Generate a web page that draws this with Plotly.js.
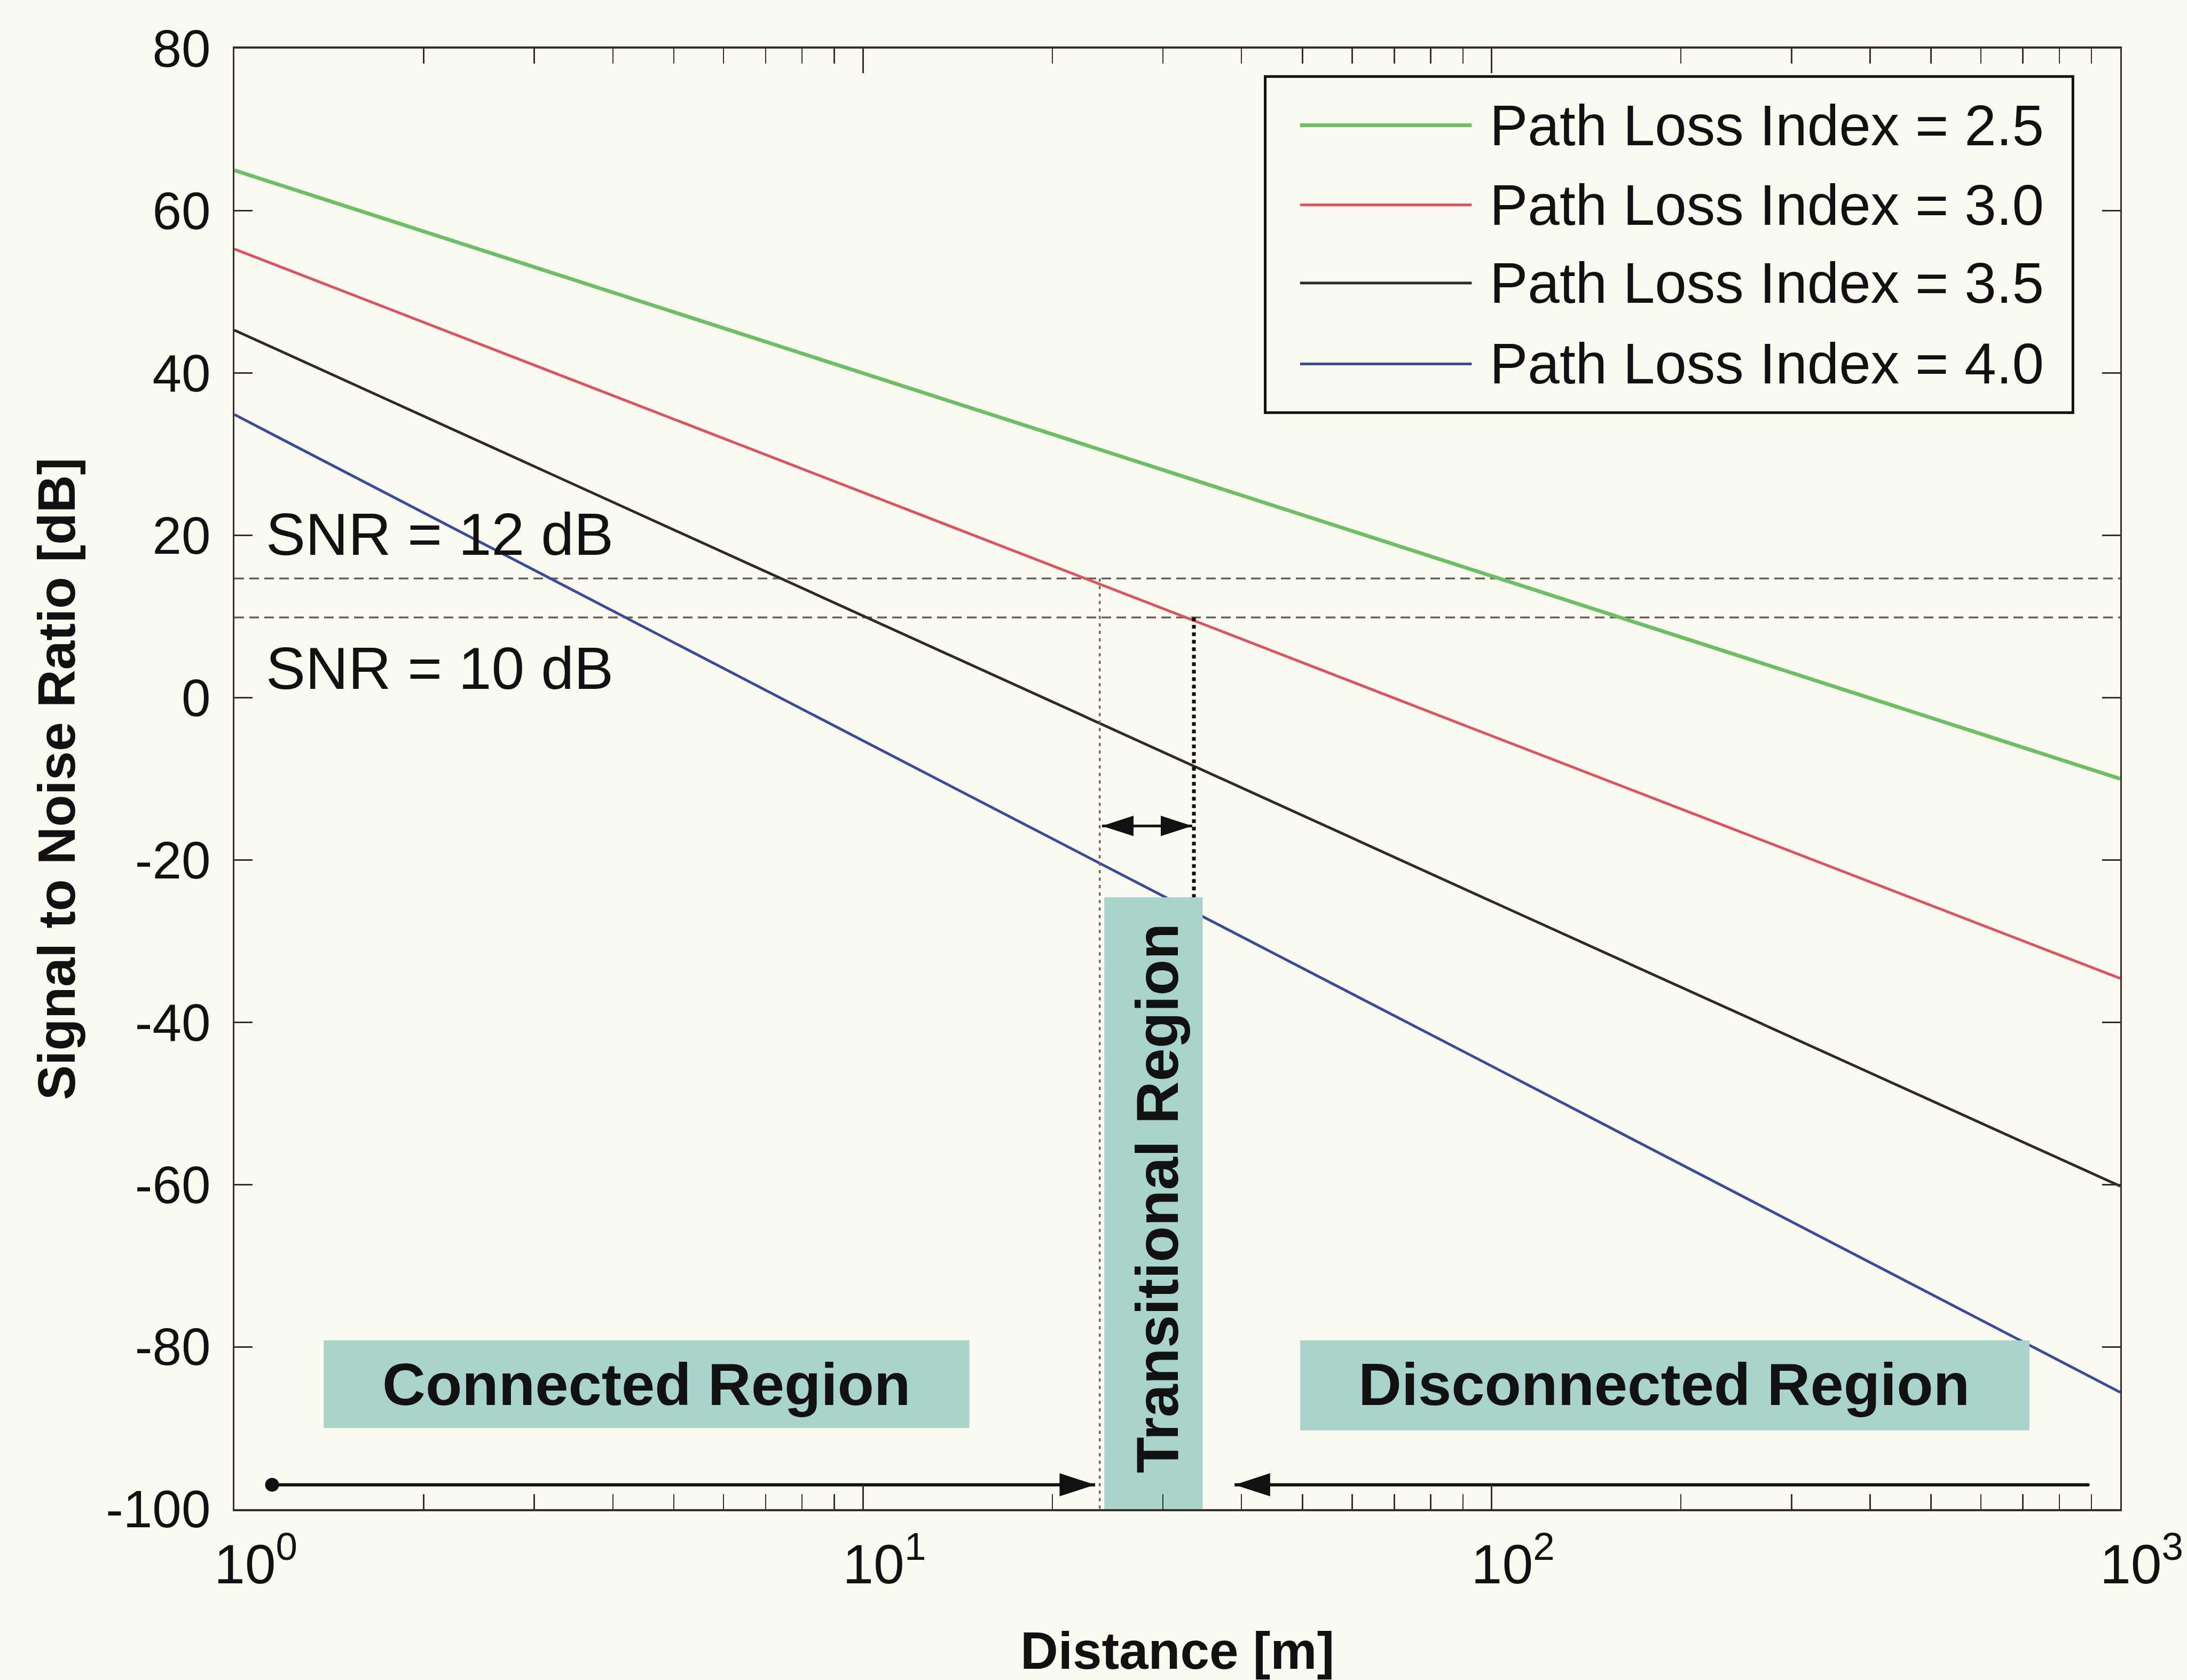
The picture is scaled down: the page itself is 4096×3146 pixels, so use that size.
<!DOCTYPE html>
<html><head><meta charset="utf-8">
<script src="https://cdn.plot.ly/plotly-3.0.1.min.js"></script>
<style>html,body{margin:0;padding:0;background:#fafaf1;} #chart{width:4096px;height:3146px;}</style>
</head><body><div id="chart"></div>
<script>
// ---- data ----
const distance = [1, 10, 100, 1000];
const seriesNames = ['Path Loss Index = 2.5', 'Path Loss Index = 3.0', 'Path Loss Index = 3.5', 'Path Loss Index = 4.0'];
const snrIndex25 = [65.0, 40.0, 15.0, -10.0];
const snrIndex30 = [55.3, 25.3, -4.7, -34.6];
const snrIndex35 = [45.3, 10.1, -25.1, -60.2];
const snrIndex40 = [34.9, -5.3, -45.4, -85.6];
const seriesColors = ['#6cc064', '#e0515c', '#2e2a28', '#3a4a9c'];

const thresholdNames = ['SNR = 12 dB', 'SNR = 10 dB'];
const thresholdLevels = [14.7, 9.9];
const thresholdSpan = [1, 1000];

const transitionDist = [23.8, 33.6];      // where the thresholds are crossed
const transitionMarkerTop = [14.7, 9.9];
const transitionMarkerBottom = [-100, -24.6];

const regionNames = ['Connected Region', 'Transitional Region', 'Disconnected Region'];
const regionX0 = [1.387, 24.2, 49.6];
const regionX1 = [14.77, 34.7, 717];
const regionY0 = [-90.0, -100.0, -90.3];
const regionY1 = [-79.2, -24.6, -79.2];

// arrows
const connectedArrowSpan = [1.148, 23.4];
const disconnectedArrowSpan = [39.0, 889];
const transitionArrowSpan = [24.0, 33.4];
const regionArrowLevel = -97;
const transitionArrowLevel = -15.8;

const xTickVals = [1, 10, 100, 1000];
const xTickText = ['10<sup>0</sup>', '10<sup>1</sup>', '10<sup>2</sup>', '10<sup>3</sup>'];
const xMinorVals = [2,3,4,5,6,7,8,9,20,30,40,50,60,70,80,90,200,300,400,500,600,700,800,900];
const yTickVals = [-100, -80, -60, -40, -20, 0, 20, 40, 60, 80];
const yTickText = ['-100', '-80', '-60', '-40', '-20', '0', '20', '40', '60', '80'];

// ---- styling ----
const FONT = 'Liberation Sans, Arial, Helvetica, sans-serif';
const BG = '#fafaf1';
const AXIS = '#3a2c2c';
const TEAL = '#a9d4cc';
const INK = '#111111';
const L = Math.log10;

const seriesY = [snrIndex25, snrIndex30, snrIndex35, snrIndex40];
const seriesWidth = [7, 5, 5, 5];

const traces = [];
// threshold lines
thresholdLevels.forEach((lv, i) => {
  traces.push({x: thresholdSpan, y: [lv, lv], mode: 'lines', name: thresholdNames[i], showlegend: false,
    line: {color: '#6e5f56', width: 3.5, dash: '18px,10px'}, hoverinfo: 'skip'});
});
// SNR curves
seriesY.forEach((ys, i) => {
  traces.push({x: distance, y: ys, mode: 'lines', name: seriesNames[i],
    line: {color: seriesColors[i], width: seriesWidth[i]}});
});
// thin dotted vertical marker
traces.push({x: [transitionDist[0], transitionDist[0]], y: [transitionMarkerTop[0], transitionMarkerBottom[0]],
  mode: 'lines', showlegend: false, hoverinfo: 'skip', line: {color: '#7a6258', width: 3.5, dash: '6px,8px'}});
// region boxes
regionNames.forEach((nm, i) => {
  traces.push({x: [regionX0[i], regionX1[i], regionX1[i], regionX0[i], regionX0[i]],
    y: [regionY0[i], regionY0[i], regionY1[i], regionY1[i], regionY0[i]],
    mode: 'lines', fill: 'toself', fillcolor: TEAL, line: {width: 0, color: TEAL},
    name: nm, showlegend: false, hoverinfo: 'skip'});
});
// thick dotted vertical marker
traces.push({x: [transitionDist[1], transitionDist[1]], y: [transitionMarkerTop[1], transitionMarkerBottom[1]],
  mode: 'lines', showlegend: false, hoverinfo: 'skip', line: {color: INK, width: 7, dash: 'dot'}});

// arrows drawn as lines with arrow markers
traces.push({x: connectedArrowSpan, y: [regionArrowLevel, regionArrowLevel], mode: 'lines+markers',
  showlegend: false, hoverinfo: 'skip', line: {color: INK, width: 6},
  marker: {symbol: ['circle', 'arrow'], angle: [0, 90], size: [26, 70], color: INK, opacity: 1, line: {width: 0}}});
traces.push({x: disconnectedArrowSpan, y: [regionArrowLevel, regionArrowLevel], mode: 'lines+markers',
  showlegend: false, hoverinfo: 'skip', line: {color: INK, width: 6},
  marker: {symbol: ['arrow', 'circle'], angle: [-90, 0], size: [70, 6], color: INK, opacity: 1, line: {width: 0}}});
traces.push({x: transitionArrowSpan, y: [transitionArrowLevel, transitionArrowLevel], mode: 'lines+markers',
  showlegend: false, hoverinfo: 'skip', line: {color: INK, width: 5},
  marker: {symbol: ['arrow', 'arrow'], angle: [-90, 90], size: [62, 62], color: INK, opacity: 1, line: {width: 0}}});

// manual legend (long line samples like the reference)
const legX0 = 0.5466, legX1 = 0.9749, legY0 = 0.7507, legY1 = 0.9809;
const legRows = [0.9475, 0.8930, 0.8395, 0.7841];
const shapes = [{type: 'rect', xref: 'paper', yref: 'paper', x0: legX0, x1: legX1, y0: legY0, y1: legY1,
  line: {color: INK, width: 5}, fillcolor: BG, layer: 'above'}];
const annotations = [];
seriesNames.forEach((nm, i) => {
  shapes.push({type: 'line', xref: 'paper', yref: 'paper', x0: 0.5651, x1: 0.6561, y0: legRows[i], y1: legRows[i],
    line: {color: seriesColors[i], width: seriesWidth[i]}, layer: 'above'});
  annotations.push({xref: 'paper', yref: 'paper', x: 0.6650, y: legRows[i], xanchor: 'left', yanchor: 'middle',
    text: nm, showarrow: false, font: {family: FONT, size: 107, color: INK}});
});

// threshold labels
annotations.push({x: L(1.119), y: 20.1, xanchor: 'left', yanchor: 'middle', text: thresholdNames[0], showarrow: false,
  font: {family: FONT, size: 111, color: INK}});
annotations.push({x: L(1.119), y: 3.6, xanchor: 'left', yanchor: 'middle', text: thresholdNames[1], showarrow: false,
  font: {family: FONT, size: 111, color: INK}});
// region labels
annotations.push({x: L(4.52), y: -84.6, text: '<b>' + regionNames[0] + '</b>', showarrow: false,
  font: {family: FONT, size: 112, color: INK}});
annotations.push({x: L(188), y: -84.6, text: '<b>' + regionNames[2] + '</b>', showarrow: false,
  font: {family: FONT, size: 112, color: INK}});
annotations.push({x: L(29.4), y: -61.7, text: '<b>' + regionNames[1] + '</b>', showarrow: false, textangle: -90,
  font: {family: FONT, size: 111, color: INK}});

const layout = {
  width: 4096, height: 3146,
  margin: {l: 439, r: 125, t: 91, b: 320},
  paper_bgcolor: BG, plot_bgcolor: BG,
  showlegend: false,
  font: {family: FONT, color: INK},
  xaxis: {
    type: 'log', range: [0, 3],
    tickmode: 'array', tickvals: xTickVals, ticktext: xTickText,
    ticks: 'inside', ticklen: 46, tickwidth: 3, tickcolor: AXIS,
    minor: {tickmode: 'array', tickvals: xMinorVals, ticks: 'inside', ticklen: 28, tickwidth: 2.5, tickcolor: AXIS},
    showline: true, linecolor: AXIS, linewidth: 4, mirror: 'allticks',
    showgrid: false, zeroline: false,
    tickfont: {family: FONT, size: 104, color: INK},
    ticklabelstandoff: 10, ticklabelshift: 40,
    title: {text: '<b>Distance [m]</b>', font: {family: FONT, size: 98, color: INK}, standoff: 72}
  },
  yaxis: {
    range: [-100, 80], tickmode: 'array', tickvals: yTickVals, ticktext: yTickText,
    ticks: 'inside', ticklen: 34, tickwidth: 3, tickcolor: AXIS,
    showline: true, linecolor: AXIS, linewidth: 3, mirror: 'allticks',
    showgrid: false, zeroline: false,
    tickfont: {family: FONT, size: 98, color: INK},
    ticklabelstandoff: 22,
    title: {text: '<b>Signal to Noise Ratio [dB]</b>', font: {family: FONT, size: 98, color: INK}, standoff: 25}
  },
  shapes: shapes,
  annotations: annotations
};

Plotly.newPlot('chart', traces, layout, {staticPlot: true});
</script>
</body></html>
